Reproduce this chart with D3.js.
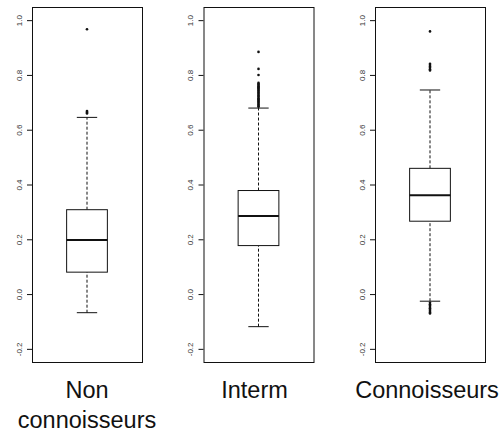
<!DOCTYPE html>
<html>
<head>
<meta charset="utf-8">
<script src="https://cdn.jsdelivr.net/npm/d3@7"></script>
<style>
  html, body { margin: 0; padding: 0; background: #fff; }
  svg { display: block; }
</style>
</head>
<body>
<svg id="chart" width="502" height="437"></svg>
<script>
// Group names (each name may wrap over several lines)
const groupLines = [["Non", "connoisseurs"], ["Interm"], ["Connoisseurs"]];

// Five-number summaries per group
const whiskerLow  = [-0.068, -0.119, -0.026];
const quartile1   = [0.080, 0.177, 0.266];
const medians     = [0.197, 0.285, 0.361];
const quartile3   = [0.308, 0.378, 0.459];
const whiskerHigh = [0.645, 0.679, 0.745];

// Points beyond the whiskers
const outliersNon = [0.967, 0.668, 0.665, 0.662, 0.659];
const outliersInterm = [0.884, 0.822, 0.800, 0.771, 0.767, 0.763, 0.759, 0.755, 0.751,
  0.747, 0.743, 0.739, 0.735, 0.731, 0.727, 0.723, 0.719, 0.715, 0.711, 0.707,
  0.703, 0.699, 0.695, 0.691, 0.687, 0.684];
const outliersConn = [0.959, 0.841, 0.836, 0.831, 0.826, 0.821, 0.816,
  -0.032, -0.037, -0.042, -0.047, -0.052, -0.057, -0.062, -0.067, -0.071];
const outliers = [outliersNon, outliersInterm, outliersConn];

// y-axis tick values
const yTicks = [-0.2, 0.0, 0.2, 0.4, 0.6, 0.8, 1.0];

const svg = d3.select("#chart");
const panelLeft = [32, 203.5, 375];
const panelWidth = 110;
const plotTop = 7, plotBottom = 362;
const labelCenters = [87, 254.5, 427];
const ink = "#111";

const y = d3.scaleLinear().domain([-0.248, 1.048]).range([plotBottom, plotTop]);

groupLines.forEach((lines, i) => {
  const x = d3.scaleLinear().domain([0.46, 1.54]).range([panelLeft[i], panelLeft[i] + panelWidth]);
  const g = svg.append("g");

  // y axis with rotated labels
  const axis = g.append("g")
    .attr("transform", `translate(${panelLeft[i]},0)`)
    .call(d3.axisLeft(y).tickValues(yTicks).tickSize(5).tickFormat(d => d.toFixed(1)));
  axis.select(".domain").remove();
  axis.selectAll(".tick line").attr("stroke", ink);
  axis.selectAll(".tick text")
    .attr("transform", "rotate(-90)")
    .attr("x", 0).attr("y", -10.5).attr("dy", 0)
    .attr("text-anchor", "middle")
    .attr("fill", "#333")
    .style("font-family", "'Liberation Sans', Arial, sans-serif")
    .style("font-size", "8px");

  // plot frame
  g.append("rect")
    .attr("x", panelLeft[i] + 0.5).attr("y", plotTop + 0.5)
    .attr("width", panelWidth).attr("height", plotBottom - plotTop)
    .attr("fill", "none").attr("stroke", ink).attr("stroke-width", 1);

  const cx = x(1);
  // whiskers
  [[quartile3[i], whiskerHigh[i]], [whiskerLow[i], quartile1[i]]].forEach(([a, b]) => {
    g.append("line")
      .attr("x1", cx).attr("x2", cx)
      .attr("y1", y(a)).attr("y2", y(b))
      .attr("stroke", ink).attr("stroke-width", 1).attr("stroke-dasharray", "3,2");
  });
  // staples
  [whiskerHigh[i], whiskerLow[i]].forEach(v => {
    g.append("line")
      .attr("x1", x(0.9)).attr("x2", x(1.1))
      .attr("y1", y(v)).attr("y2", y(v))
      .attr("stroke", ink).attr("stroke-width", 1);
  });
  // box
  g.append("rect")
    .attr("x", x(0.8)).attr("y", y(quartile3[i]))
    .attr("width", x(1.2) - x(0.8)).attr("height", y(quartile1[i]) - y(quartile3[i]))
    .attr("fill", "#fff").attr("stroke", ink).attr("stroke-width", 1);
  // median
  g.append("line")
    .attr("x1", x(0.8)).attr("x2", x(1.2))
    .attr("y1", y(medians[i])).attr("y2", y(medians[i]))
    .attr("stroke", ink).attr("stroke-width", 2);
  // outliers
  g.selectAll("circle.out").data(outliers[i]).enter().append("circle")
    .attr("class", "out")
    .attr("cx", cx).attr("cy", d => y(d)).attr("r", 1.3)
    .attr("fill", ink);

  // group label
  const t = svg.append("text")
    .attr("x", labelCenters[i]).attr("y", 398)
    .attr("text-anchor", "middle")
    .attr("fill", "#111")
    .style("font-family", "'Liberation Sans', Arial, sans-serif")
    .style("font-size", "23.5px");
  lines.forEach((ln, k) => {
    t.append("tspan").attr("x", labelCenters[i]).attr("dy", k === 0 ? 0 : 30).text(ln);
  });
});
</script>
</body>
</html>
